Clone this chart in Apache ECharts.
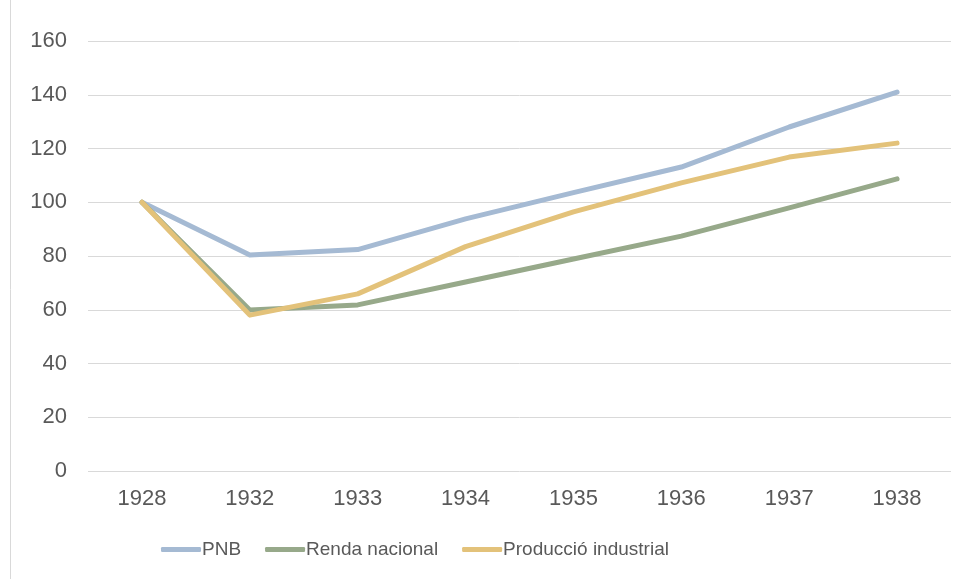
<!DOCTYPE html>
<html>
<head>
<meta charset="utf-8">
<script src="https://cdn.jsdelivr.net/npm/echarts@6/dist/echarts.min.js"></script>
<style>
  html, body { margin: 0; padding: 0; background: #fff; }
  #chart { width: 964px; height: 579px; }
</style>
</head>
<body>
<div id="chart"></div>
<script>
var years = ['1928', '1932', '1933', '1934', '1935', '1936', '1937', '1938'];
var pnb = [100, 80.4, 82.4, 93.8, 103.6, 113.1, 128, 141];
var rendaNacional = [100, 59.9, 61.8, 70.3, 78.9, 87.4, 97.9, 108.7];
var produccioIndustrial = [100, 58, 65.9, 83.5, 96.4, 107.2, 116.8, 122];
var seriesNames = ['PNB', 'Renda nacional', 'Producció industrial'];
var colors = ['#A5BAD3', '#97A98A', '#E3C27A'];

var chart = echarts.init(document.getElementById('chart'));

function lineSeries(name, data, color) {
    return {
        name: name,
        type: 'line',
        data: data,
        symbol: 'none',
        lineStyle: { color: color, width: 5, cap: 'round', join: 'round' },
        itemStyle: { color: color }
    };
}

var option = {
    animation: false,
    textStyle: { fontFamily: 'Liberation Sans, Arial, sans-serif' },
    graphic: [{
        type: 'line',
        shape: { x1: 10.5, y1: 0, x2: 10.5, y2: 579 },
        style: { stroke: '#D9D9D9', lineWidth: 1 }
    }],
    grid: { left: 88, right: 13, top: 41, bottom: 108, containLabel: false },
    legend: {
        bottom: 15,
        left: 156,
        itemWidth: 40,
        itemHeight: 5,
        itemGap: 24,
        icon: 'roundRect',
        textStyle: {
            fontSize: 19,
            color: '#595959',
            padding: [0, 0, 0, -4]
        },
        data: seriesNames
    },
    xAxis: {
        type: 'category',
        data: years,
        boundaryGap: true,
        axisLine: { show: false },
        axisTick: { show: false },
        axisLabel: { fontSize: 22, color: '#595959', margin: 17 }
    },
    yAxis: {
        type: 'value',
        min: 0,
        max: 160,
        interval: 20,
        axisLine: { show: false },
        axisTick: { show: false },
        axisLabel: { fontSize: 22, color: '#595959', margin: 21 },
        splitLine: { lineStyle: { color: '#D9D9D9', width: 1 } }
    },
    series: [
        lineSeries(seriesNames[0], pnb, colors[0]),
        lineSeries(seriesNames[1], rendaNacional, colors[1]),
        lineSeries(seriesNames[2], produccioIndustrial, colors[2])
    ]
};
chart.setOption(option);
</script>
</body>
</html>
